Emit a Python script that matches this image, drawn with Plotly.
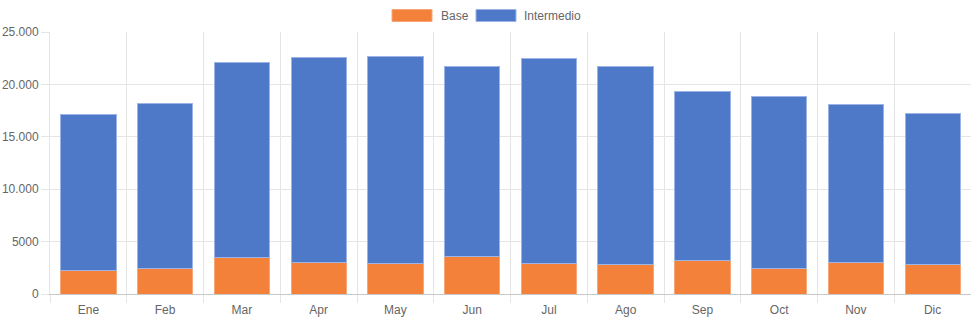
import plotly.graph_objects as go

# Monthly totals split into two stacked tiers
months = ["Ene", "Feb", "Mar", "Apr", "May", "Jun", "Jul", "Ago", "Sep", "Oct", "Nov", "Dic"]
base = [2200, 2480, 3530, 2960, 2900, 3600, 2870, 2770, 3220, 2420, 2960, 2770]
intermedio = [14960, 15730, 18600, 19580, 19770, 18110, 19610, 18970, 16070, 16460, 15090, 14450]

y_tick_values = [0, 5000, 10000, 15000, 20000, 25000]
y_tick_labels = ["0", "5000", "10.000", "15.000", "20.000", "25.000"]

series_names = ["Base", "Intermedio"]
fill_colors = ["#F4813A", "#4E79C9"]
edge_colors = ["#F8A878", "#9DB5E5"]

W, H = 971, 323
M_L, M_R, M_T, M_B = 50, 0, 32, 29
FONT = "Liberation Sans, Arial, Helvetica, sans-serif"
TEXT = "#666666"
GRID = "#E5E5E5"

fig = go.Figure()
for name, vals, fc, ec in zip(series_names, [base, intermedio], fill_colors, edge_colors):
    fig.add_trace(go.Bar(
        x=months, y=vals, name=name,
        marker=dict(color=fc, line=dict(color=ec, width=1)),
        showlegend=False,
        hovertemplate="%{x}<br>" + name + ": %{y}<extra></extra>",
    ))

# Legend drawn as wide colour boxes centred above the plot
plot_w = W - M_L - M_R
plot_h = H - M_T - M_B


def px_x(px):
    return (px - M_L) / plot_w


def px_y(py):
    return (H - M_B - py) / plot_h


legend_items = [(392, 439), (476, 522)]
for (box_x, text_x), name, fc, ec in zip(legend_items, series_names, fill_colors, edge_colors):
    fig.add_shape(
        type="rect", xref="paper", yref="paper",
        x0=px_x(box_x), x1=px_x(box_x + 40), y0=px_y(21.5), y1=px_y(9.5),
        fillcolor=fc, line=dict(color=ec, width=1),
    )
    fig.add_annotation(
        xref="paper", yref="paper", x=px_x(text_x), y=px_y(15.5),
        text=name, showarrow=False, xanchor="left", yanchor="middle",
        font=dict(family=FONT, size=12, color=TEXT),
    )

fig.update_layout(
    width=W, height=H,
    margin=dict(l=M_L, r=M_R, t=M_T, b=M_B, pad=0),
    barmode="stack", bargap=0.28,
    plot_bgcolor="white", paper_bgcolor="white",
    font=dict(family=FONT, size=12, color=TEXT),
    xaxis=dict(
        type="category", tickson="boundaries",
        showgrid=True, gridcolor=GRID, gridwidth=1,
        ticks="outside", ticklen=8, tickcolor=GRID,
        ticklabelstandoff=5,
        showline=True, linecolor="#C8C8C8", linewidth=1,
        tickfont=dict(family=FONT, size=12, color=TEXT),
        fixedrange=True,
    ),
    yaxis=dict(
        range=[0, 25000], tickvals=y_tick_values, ticktext=y_tick_labels,
        showgrid=True, gridcolor=GRID, gridwidth=1,
        ticks="outside", ticklen=8, tickcolor=GRID,
        showline=True, linecolor=GRID, linewidth=1,
        zeroline=False,
        tickfont=dict(family=FONT, size=12, color=TEXT),
        fixedrange=True,
    ),
)

fig.write_html("out.html", config={"displayModeBar": False})
